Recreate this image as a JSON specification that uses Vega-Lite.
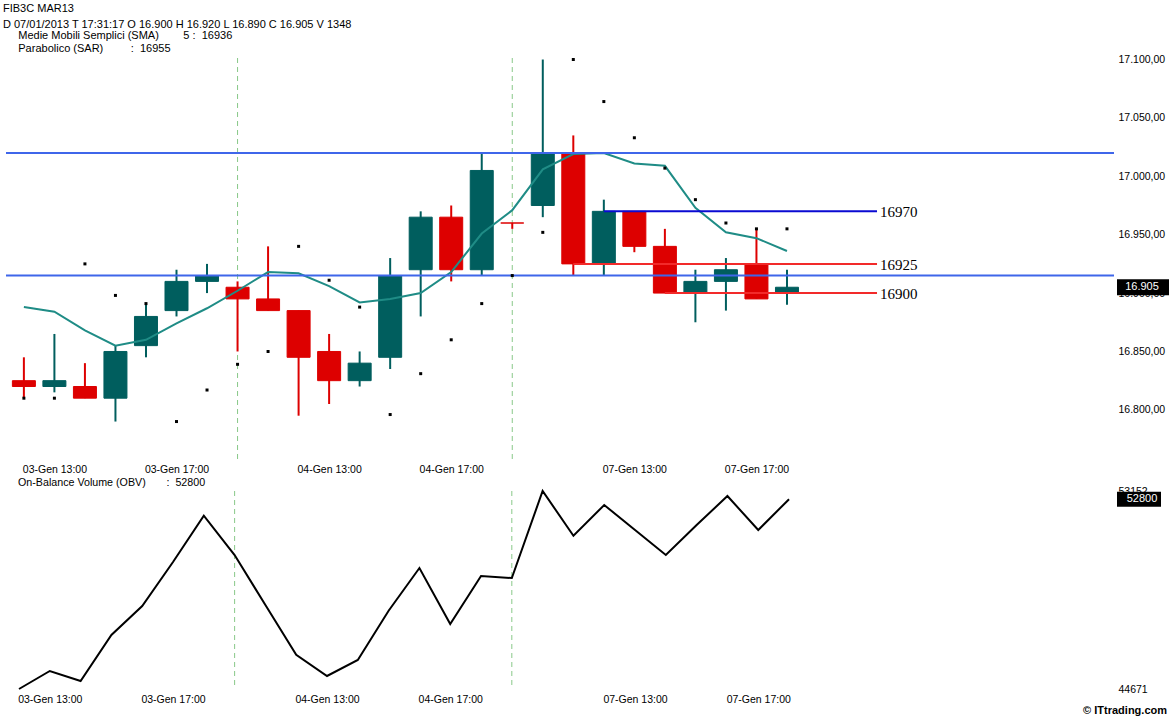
{
  "$schema": "https://vega.github.io/schema/vega-lite/v6.json",
  "background": "white",
  "padding": {"left": 3, "top": 3, "right": 0, "bottom": 0},
  "config": {
    "locale": {"number": {"decimal": ",", "thousands": ".", "grouping": [3], "currency": ["", ""]}},
    "view": {"stroke": null},
    "font": "Liberation Sans",
    "axis": {"grid": false, "domain": false, "ticks": false, "labelFont": "Liberation Sans", "labelFontSize": 10.5, "labelColor": "#000000", "title": null},
    "title": {"font": "Liberation Sans", "fontWeight": "normal", "color": "#000000", "subtitleFont": "Liberation Sans", "subtitleColor": "#000000"}
  },
  "datasets": {
    "bars": [
      {"i": 0, "o": 16825, "h": 16845, "l": 16810, "c": 16820, "sma": 16888, "sar": 16810, "obv": 44671},
      {"i": 1, "o": 16820, "h": 16865, "l": 16815, "c": 16825, "sma": 16884, "sar": 16810, "obv": 45442},
      {"i": 2, "o": 16820, "h": 16840, "l": 16810, "c": 16810, "sma": 16868, "sar": 16925, "obv": 45014},
      {"i": 3, "o": 16810, "h": 16855, "l": 16790, "c": 16850, "sma": 16855, "sar": 16898, "obv": 46984},
      {"i": 4, "o": 16855, "h": 16890, "l": 16845, "c": 16880, "sma": 16860, "sar": 16891, "obv": 48226},
      {"i": 5, "o": 16885, "h": 16920, "l": 16880, "c": 16910, "sma": 16874, "sar": 16790, "obv": 50110},
      {"i": 6, "o": 16910, "h": 16925, "l": 16900, "c": 16915, "sma": 16887, "sar": 16817, "obv": 52094},
      {"i": 7, "o": 16905, "h": 16910, "l": 16850, "c": 16895, "sma": 16902, "sar": 16839, "obv": 50410},
      {"i": 8, "o": 16895, "h": 16940, "l": 16885, "c": 16885, "sma": 16918, "sar": 16850, "obv": 48269},
      {"i": 9, "o": 16885, "h": 16885, "l": 16795, "c": 16845, "sma": 16917, "sar": 16940, "obv": 46140},
      {"i": 10, "o": 16850, "h": 16865, "l": 16805, "c": 16825, "sma": 16906, "sar": 16911, "obv": 45228},
      {"i": 11, "o": 16825, "h": 16850, "l": 16820, "c": 16840, "sma": 16892, "sar": 16888, "obv": 45913},
      {"i": 12, "o": 16845, "h": 16930, "l": 16835, "c": 16915, "sma": 16895, "sar": 16796, "obv": 48025},
      {"i": 13, "o": 16920, "h": 16970, "l": 16880, "c": 16965, "sma": 16900, "sar": 16831, "obv": 49853},
      {"i": 14, "o": 16965, "h": 16975, "l": 16910, "c": 16920, "sma": 16918, "sar": 16860, "obv": 47455},
      {"i": 15, "o": 16920, "h": 17020, "l": 16915, "c": 17005, "sma": 16951, "sar": 16891, "obv": 49511},
      {"i": 16, "o": 16960, "h": 16960, "l": 16955, "c": 16960, "sma": 16971, "sar": 16915, "obv": 49425},
      {"i": 17, "o": 16975, "h": 17100, "l": 16965, "c": 17020, "sma": 17006, "sar": 16952, "obv": 53152},
      {"i": 18, "o": 17020, "h": 17035, "l": 16915, "c": 16925, "sma": 17019, "sar": 17100, "obv": 51237},
      {"i": 19, "o": 16925, "h": 16980, "l": 16915, "c": 16970, "sma": 17020, "sar": 17064, "obv": 52552},
      {"i": 20, "o": 16970, "h": 16970, "l": 16935, "c": 16940, "sma": 17011, "sar": 17033, "obv": 51481},
      {"i": 21, "o": 16940, "h": 16955, "l": 16900, "c": 16900, "sma": 17009, "sar": 17007, "obv": 50410},
      {"i": 22, "o": 16900, "h": 16920, "l": 16875, "c": 16910, "sma": 16973, "sar": 16980, "obv": 51695},
      {"i": 23, "o": 16910, "h": 16930, "l": 16885, "c": 16920, "sma": 16952, "sar": 16960, "obv": 52937},
      {"i": 24, "o": 16925, "h": 16955, "l": 16895, "c": 16895, "sma": 16947, "sar": 16955, "obv": 51481},
      {"i": 25, "o": 16900, "h": 16920, "l": 16890, "c": 16905, "sma": 16936, "sar": 16955, "obv": 52800}
    ],
    "levels": [{"p": 17020}, {"p": 16915}],
    "segs": [
      {"p": 16970, "i0": 19, "i1": 27.95, "kind": "R", "label": "16970"},
      {"p": 16925, "i0": 18, "i1": 27.95, "kind": "S", "label": "16925"},
      {"p": 16900, "i0": 21, "i1": 27.95, "kind": "S", "label": "16900"}
    ],
    "days": [{"i": 7}, {"i": 16}],
    "last": [{"p": 16905, "label": "16.905", "obv": 52800, "olabel": "52800"}]
  },
  "title": {"text": "© ITtrading.com", "orient": "bottom", "anchor": "end", "fontSize": 11, "fontWeight": "bold", "offset": 0, "dx": -3},
  "spacing": 2,
  "vconcat": [
    {
      "width": 1108,
      "height": 405,
      "title": {
        "text": ["FIB3C MAR13", "D 07/01/2013 T 17:31:17 O 16.900 H 16.920 L 16.890 C 16.905 V 1348"],
        "subtitle": ["\u200b\u00a0\u00a0\u00a0\u00a0\u00a0Medie Mobili Semplici (SMA)\u00a0\u00a0\u00a0\u00a0\u00a0\u00a0\u00a0\u00a05 :\u00a0\u00a016936", "\u200b\u00a0\u00a0\u00a0\u00a0\u00a0Parabolico (SAR)\u00a0\u00a0\u00a0\u00a0\u00a0\u00a0\u00a0\u00a0\u00a0:\u00a0\u00a016955"],
        "anchor": "start", "dx": -2, "fontSize": 11, "lineHeight": 16, "subtitleFontSize": 11, "subtitleLineHeight": 12.5, "subtitlePadding": 0, "offset": 1
      },
      "layer": [
        {
          "data": {"name": "days"},
          "mark": {"type": "rule", "stroke": "#88c888", "strokeDash": [5, 4], "strokeWidth": 1},
          "encoding": {
            "x": {"field": "i", "type": "quantitative", "scale": {"domain": [-0.422, 35.55], "nice": false, "zero": false},
              "axis": {"values": [1, 5, 10, 14, 20, 24], "labelPadding": 1, "labelExpr": "datum.value==1?'03-Gen 13:00':datum.value==5?'03-Gen 17:00':datum.value==10?'04-Gen 13:00':datum.value==14?'04-Gen 17:00':datum.value==20?'07-Gen 13:00':'07-Gen 17:00'"}}
          }
        },
        {
          "data": {"name": "bars"},
          "mark": {"type": "rule", "strokeWidth": 2},
          "encoding": {
            "x": {"field": "i", "type": "quantitative", "scale": {"domain": [-0.422, 35.55], "nice": false, "zero": false}},
            "y": {"field": "l", "type": "quantitative", "scale": {"domain": [16754.5, 17101.3], "nice": false, "zero": false},
              "axis": {"orient": "right", "values": [16800, 16850, 16900, 16950, 17000, 17050, 17100], "format": ",.2f", "labelPadding": 4}},
            "y2": {"field": "h"},
            "color": {"condition": {"test": "datum.c > datum.o", "value": "#005e5e"}, "value": "#dd0000"}
          }
        },
        {
          "data": {"name": "bars"},
          "mark": {"type": "bar", "width": 23, "strokeWidth": 1},
          "encoding": {
            "x": {"field": "i", "type": "quantitative", "scale": {"domain": [-0.422, 35.55], "nice": false, "zero": false}},
            "y": {"field": "o", "type": "quantitative", "scale": {"domain": [16754.5, 17101.3], "nice": false, "zero": false}},
            "y2": {"field": "c"},
            "color": {"condition": {"test": "datum.c > datum.o", "value": "#005e5e"}, "value": "#dd0000"},
            "stroke": {"condition": {"test": "datum.c > datum.o", "value": "#005e5e"}, "value": "#dd0000"}
          }
        },
        {
          "data": {"name": "bars"},
          "mark": {"type": "line", "stroke": "#1f8c86", "strokeWidth": 2},
          "encoding": {
            "x": {"field": "i", "type": "quantitative", "scale": {"domain": [-0.422, 35.55], "nice": false, "zero": false}},
            "y": {"field": "sma", "type": "quantitative", "scale": {"domain": [16754.5, 17101.3], "nice": false, "zero": false}}
          }
        },
        {
          "data": {"name": "levels"},
          "mark": {"type": "rule", "stroke": "#3f66ea", "strokeWidth": 2},
          "encoding": {
            "y": {"field": "p", "type": "quantitative", "scale": {"domain": [16754.5, 17101.3], "nice": false, "zero": false}}
          }
        },
        {
          "data": {"name": "segs"},
          "mark": {"type": "rule", "strokeWidth": 2},
          "encoding": {
            "x": {"field": "i0", "type": "quantitative", "scale": {"domain": [-0.422, 35.55], "nice": false, "zero": false}},
            "x2": {"field": "i1"},
            "y": {"field": "p", "type": "quantitative", "scale": {"domain": [16754.5, 17101.3], "nice": false, "zero": false}},
            "color": {"field": "kind", "type": "nominal", "scale": {"domain": ["R", "S"], "range": ["#0a0ad2", "#f22a2a"]}, "legend": null}
          }
        },
        {
          "data": {"name": "bars"},
          "mark": {"type": "square", "size": 9, "color": "#000000", "opacity": 1},
          "encoding": {
            "x": {"field": "i", "type": "quantitative", "scale": {"domain": [-0.422, 35.55], "nice": false, "zero": false}},
            "y": {"field": "sar", "type": "quantitative", "scale": {"domain": [16754.5, 17101.3], "nice": false, "zero": false}}
          }
        },
        {
          "data": {"name": "segs"},
          "mark": {"type": "text", "align": "left", "baseline": "middle", "font": "Liberation Serif", "fontSize": 15, "color": "#000000", "dy": 1, "dx": 3},
          "encoding": {
            "x": {"field": "i1", "type": "quantitative", "scale": {"domain": [-0.422, 35.55], "nice": false, "zero": false}},
            "y": {"field": "p", "type": "quantitative", "scale": {"domain": [16754.5, 17101.3], "nice": false, "zero": false}},
            "text": {"field": "label"}
          }
        },
        {
          "data": {"name": "last"},
          "mark": {"type": "rect", "x": {"expr": "width+3"}, "x2": {"expr": "width+56"}, "yOffset": -8, "y2Offset": 8, "color": "#000000"},
          "encoding": {
            "y": {"field": "p", "type": "quantitative", "scale": {"domain": [16754.5, 17101.3], "nice": false, "zero": false}},
            "y2": {"field": "p"}
          }
        },
        {
          "data": {"name": "last"},
          "mark": {"type": "text", "x": {"expr": "width+28"}, "align": "center", "baseline": "middle", "fontSize": 11, "color": "#ffffff"},
          "encoding": {
            "y": {"field": "p", "type": "quantitative", "scale": {"domain": [16754.5, 17101.3], "nice": false, "zero": false}},
            "text": {"field": "label"}
          }
        }
      ]
    },
    {
      "width": 1108,
      "height": 198,
      "title": {"text": "On-Balance Volume (OBV)\u00a0\u00a0\u00a0\u00a0\u00a0\u00a0\u00a0:\u00a0\u00a052800", "anchor": "start", "dx": 12, "fontSize": 10.7, "offset": -3},
      "layer": [
        {
          "data": {"name": "days"},
          "mark": {"type": "rule", "stroke": "#88c888", "strokeDash": [5, 4], "strokeWidth": 1},
          "encoding": {
            "x": {"field": "i", "type": "quantitative", "scale": {"domain": [-0.422, 35.55], "nice": false, "zero": false},
              "axis": {"values": [1, 5, 10, 14, 20, 24], "labelPadding": 5, "labelExpr": "datum.value==1?'03-Gen 13:00':datum.value==5?'03-Gen 17:00':datum.value==10?'04-Gen 13:00':datum.value==14?'04-Gen 17:00':datum.value==20?'07-Gen 13:00':'07-Gen 17:00'"}}
          }
        },
        {
          "data": {"name": "bars"},
          "mark": {"type": "line", "stroke": "#000000", "strokeWidth": 2},
          "encoding": {
            "x": {"field": "i", "type": "quantitative", "scale": {"domain": [-0.422, 35.55], "nice": false, "zero": false}},
            "y": {"field": "obv", "type": "quantitative", "scale": {"domain": [44671, 53152], "nice": false, "zero": false},
              "axis": {"orient": "right", "values": [44671, 53152], "format": "d", "labelPadding": 4}}
          }
        },
        {
          "data": {"name": "last"},
          "mark": {"type": "rect", "x": {"expr": "width+3"}, "x2": {"expr": "width+47"}, "yOffset": -7.5, "y2Offset": 7.5, "color": "#000000"},
          "encoding": {
            "y": {"field": "obv", "type": "quantitative", "scale": {"domain": [44671, 53152], "nice": false, "zero": false}},
            "y2": {"field": "obv"}
          }
        },
        {
          "data": {"name": "last"},
          "mark": {"type": "text", "x": {"expr": "width+28"}, "align": "center", "baseline": "middle", "fontSize": 11, "color": "#ffffff"},
          "encoding": {
            "y": {"field": "obv", "type": "quantitative", "scale": {"domain": [44671, 53152], "nice": false, "zero": false}},
            "text": {"field": "olabel"}
          }
        }
      ]
    }
  ]
}
